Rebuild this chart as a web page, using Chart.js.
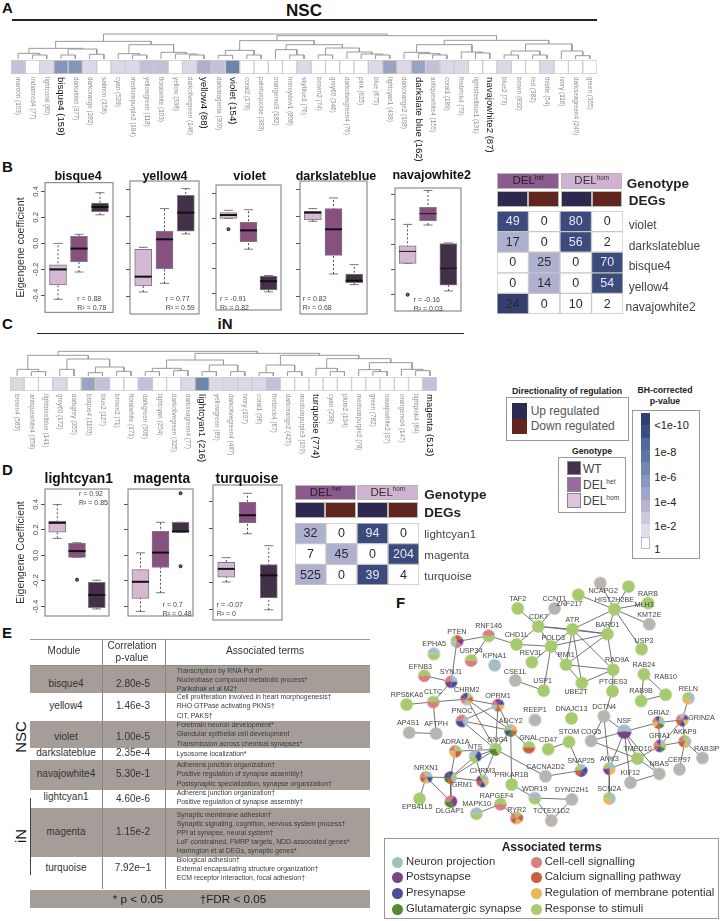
<!DOCTYPE html>
<html lang="en">
<head>
  <meta charset="UTF-8">
  <title>NSC and iN co-expression modules</title>
  <script src="https://cdn.jsdelivr.net/npm/chart.js"></script>
  <style>
    html, body { margin: 0; padding: 0; background: #fff; }
    body { position: relative; width: 728px; height: 921px; overflow: hidden; font-family: "Liberation Sans", Arial, sans-serif; color: #333; }
    canvas { position: absolute; }
    .t { position: absolute; white-space: nowrap; line-height: 1; }
    .b { position: absolute; box-sizing: border-box; }
    sup { font-size: 55%; vertical-align: baseline; position: relative; top: -0.7em; }
  </style>
</head>
<body>
<script>
  // Panel A modules
  const nscModules = ['maroon (103)', 'indianred4 (77)', 'lightcoral (80)', 'bisque4 (159)', 'darkviolet (377)', 'darkorange (282)', 'salmon (158)', 'cyan (528)', 'mediumpurple2 (184)', 'yellowgreen (118)', 'floralwhite (103)', 'yellow (338)', 'darkolivegreen (146)', 'yellow4 (88)', 'darkmagenta (300)', 'violet (154)', 'coral2 (178)', 'paleturquoise (383)', 'orangered3 (182)', 'honeydew1 (808)', 'skyblue1 (76)', 'brown2 (74)', 'grey60 (346)', 'darkolivegreen4 (76)', 'pink (625)', 'blue (675)', 'lightcyan1 (438)', 'darkorange2 (108)', 'darkslate blue (162)', 'antiquewhite4 (155)', 'coral1 (189)', 'firebrick4 (79)', 'lightsteelblue1 (191)', 'navajowhite2 (87)', 'blue2 (73)', 'brown (832)', 'red (382)', 'thistle (54)', 'ivory (116)', 'darkseagreen4 (240)', 'green (355)'];
  const nscLevels = [2, 0, 1, 5, 5, 1, 0, 1, 1, 2, 2, 0, 1, 3, 2, 6, 0, 0, 0, 0, 1, 0, 0, 0, 0, 1, 4, 1, 4, 2, 1, 1, 0, 0, 1, 0, 0, 1, 0, 0, 0];
  const nscBold = ['bisque4 (159)', 'yellow4 (88)', 'violet (154)', 'darkslate blue (162)', 'navajowhite2 (87)'];
  // dendrograms: [height, left, right], 0 is a leaf
  const nscTree = [75,
    [53, [32, [17, 0, [12, 0, 0]], [30, [12, 0, 0], [14, 0, 0]]], [43, [16, 0, [12, 0, 0]], [20, 0, [15, 0, [12, 0, 0]]]]],
    [70,
      [55, [26, [11, 0, 0], [12, 0, 0]], [43, [28, 0, [12, 0, 0]], [33, [12, 0, 0], [21, 0, [15, 0, [12, 0, 0]]]]]],
      [56, [43, [20, 0, [16, 0, [12, 0, 0]]], [21, 0, [18, 0, 0]]], [45, [24, [12, 0, 0], [12, 0, 0]], [24, 0, [10, 0, 0]]]]]];

  // Panel C modules
  const inModules = ['brown4 (583)', 'antiquewhite4 (358)', 'lightsteelblue (141)', 'grey60 (172)', 'darkgrey (355)', 'bisque4 (1103)', 'blue2 (127)', 'brown2 (71)', 'floralwhite (171)', 'darkgreen (906)', 'lightcyan (254)', 'darkolivegreen (325)', 'darkseagreen4 (77)', 'lightcyan1 (216)', 'yellowgreen (89)', 'darkolivegreen4 (487)', 'ivory (197)', 'coral1 (96)', 'firebrick4 (67)', 'darkorange2 (425)', 'mediumpurple3 (109)', 'turquoise (774)', 'cyan (238)', 'plum2 (194)', 'mediumpurple2 (78)', 'green (782)', 'navajowhite2 (97)', 'orangered4 (147)', 'lightpink4 (84)', 'magenta (513)'];
  const inLevels = [1, 0, 0, 1, 0, 4, 2, 0, 0, 2, 0, 0, 1, 6, 1, 1, 1, 1, 2, 0, 0, 0, 0, 0, 0, 0, 0, 0, 0, 2];
  const inBold = ['lightcyan1 (216)', 'turquoise (774)', 'magenta (513)'];
  const inTree = [74,
    [62, [20, 0, [13, 0, 0]], [51, [20, 0, 0], [27, [10, 0, 0], [14, 0, 0]]]],
    [68,
      [48, [23, [13, 0, 0], [16, 0, 0]], [33, [13, 0, 0], [13, 0, 0]]],
      [62, [33, [10, 0, 0], [13, 0, 0]], [52, [23, 0, [13, 0, 0]], [40, [19, 0, [13, 0, 0]], [20, 0, [16, 0, 0]]]]]]];

  // Boxplots: [low whisker, q1, median, q3, high whisker] for DELhom, DELhet, WT
  const yTicks = [-0.4, -0.2, 0, 0.2, 0.4];
  const bisque4Box = [[-0.43, -0.32, -0.2, -0.165, 0], [-0.22, -0.14, -0.04, 0.055, 0.07], [0.22, 0.245, 0.28, 0.31, 0.39]];
  const yellow4Box = [[-0.365, -0.32, -0.25, -0.045, -0.03], [-0.3, -0.19, 0.03, 0.09, 0.26], [0.07, 0.09, 0.23, 0.36, 0.41]];
  const violetBox = [[0.2, 0.2, 0.2275, 0.2475, 0.265], [-0.045, 0.015, 0.105, 0.17, 0.27], [-0.385, -0.37, -0.3, -0.26, -0.255]];
  const darkslateblueBox = [[0.165, 0.175, 0.23, 0.24, 0.26], [-0.23, -0.09, 0.105, 0.26, 0.34], [-0.31, -0.295, -0.28, -0.23, -0.16]];
  const navajowhite2Box = [[-0.15, -0.15, -0.055, -0.01, 0.16], [0.155, 0.19, 0.245, 0.295, 0.43], [-0.37, -0.325, -0.19, 0.0075, 0.0125]];
  const lightcyan1Box = [[0.134, 0.183, 0.256, 0.27, 0.4], [-0.015, -0.015, 0.034, 0.095, 0.1], [-0.42, -0.41, -0.31, -0.212, -0.195]];
  const magentaBox = [[-0.44, -0.337, -0.207, -0.112, 0.02], [-0.293, -0.095, 0.022, 0.19, 0.26], [0.183, 0.183, 0.188, 0.26, 0.26]];
  const turquoiseBox = [[-0.195, -0.16, -0.098, -0.049, -0.015], [0.161, 0.241, 0.298, 0.393, 0.46], [-0.4, -0.312, -0.146, -0.066, 0.073]];
  // outliers: [group, value]
  const violetOutliers = [[0, 0.115]];
  const navajowhite2Outliers = [[0, -0.4]];
  const lightcyan1Outliers = [[1, -0.19]];
  const magentaOutliers = [[2, 0.488], [2, -0.085]];

  // DEG counts, columns are het up, het down, hom up, hom down
  const degRowsB = ['violet', 'darkslateblue', 'bisque4', 'yellow4', 'navajowhite2'];
  const degCountsB = [[49, 0, 80, 0], [17, 0, 56, 2], [0, 25, 0, 70], [0, 14, 0, 54], [24, 0, 10, 2]];
  const degShadeB = [[2, 0, 2, 0], [1, 0, 2, 0], [0, 1, 0, 2], [0, 1, 0, 2], [3, 0, 0, 0]];
  const degRowsD = ['lightcyan1', 'magenta', 'turquoise'];
  const degCountsD = [[32, 0, 94, 0], [7, 45, 0, 204], [525, 0, 39, 4]];
  const degShadeD = [[1, 0, 2, 0], [0, 1, 0, 2], [1, 0, 2, 0]];
  const degColumns = ['het up', 'het down', 'hom up', 'hom down'];

  // Panel E table
  const tableModules = ['bisque4', 'yellow4', 'violet', 'darkslateblue', 'navajowhite4', 'lightcyan1', 'magenta', 'turquoise'];
  const tablePvalues = ['2.80e-5', '1.46e-3', '1.00e-5', '2.35e-4', '5.30e-1', '4.60e-6', '1.15e-2', '7.92e\u22121'];
  const tableTerms = [
    ['Transcription by RNA Pol II*', 'Nucleobase compound metabolic process*', 'Parikshak et al M2\u2020'],
    ['Cell proliferation involved in heart morphogenesis\u2020', 'RHO GTPase activating PKNS\u2020', 'CIT, PAKS\u2020'],
    ['Forebrain neuron development*', 'Glandular epithelial cell development', 'Transmission across chemical synapses*'],
    ['Lysosome localization*'],
    ['Adherens junction organization\u2020', 'Positive regulation of synapse assembly\u2020', 'Postsynaptic specialization, synapse organization\u2020'],
    ['Adherens junction organization\u2020', 'Positive regulation of synapse assembly\u2020'],
    ['Synaptic membrane adhesion\u2020', 'Synaptic signaling, cognition, nervous system process\u2020', 'PPI at synapse, neural system\u2020', 'LoF constrained, FMRP targets, NDD-associated genes*', 'Harrington et al DEGs, synaptic genes*'],
    ['Biological adhesion\u2020', 'External encapsulating structure organization\u2020', 'ECM receptor interaction, focal adhesion\u2020']
  ];
  const tableRowEdges = [665, 693.3, 720.7, 748.3, 760, 790, 808.3, 856.7, 890];
  const tableRowMid = [684, 705.7, 737.3, 753.3, 774, 799, 831.7, 867.7];
  const tableTermTop = [670.7, 697.3, 725.3, 753.7, 765.3, 793.3, 815, 860];

  // Panel F network, positions. Terms: N O P G C K M R, X is none
  const nodeNames = ['TAF2', 'CCNT1', 'ZNF217', 'NCAPG2', 'MLH3', 'RARB', 'HIST2H2BE', 'KMT2E', 'CDK7', 'ATR', 'BARD1', 'USP3', 'RNF146', 'CHD1L', 'POLD3', 'PTEN', 'EPHA5', 'USP34', 'REV3L', 'RMI1', 'RAD9A', 'KPNA1', 'CSE1L', 'USP1', 'UBE2T', 'RAB24', 'RAB10', 'PTGES3', 'RAB9B', 'RELN', 'EFNB3', 'SYNJ1', 'RPS6KA6', 'CLTC', 'CHRM2', 'OPRM1', 'PNOC', 'ADCY2', 'REEP1', 'DNAJC13', 'DCTN4', 'NSF', 'GRIA2', 'GRIN2A', 'AP4S1', 'AFTPH', 'STOM', 'COG5', 'GRIA1', 'AKAP9', 'RAB3IP', 'GNAL', 'CD47', 'GNG4', 'ADRA1A', 'NTS', 'TMED10', 'CEP97', 'NBAS', 'ANK3', 'SNAP25', 'CHRM3', 'KIF12', 'CACNA2D2', 'NRXN1', 'GRM1', 'PRKAR1B', 'WDR19', 'DYNC2H1', 'SCN2A', 'EPB41L5', 'DLGAP1', 'RAPGEF4', 'MAPK10', 'RYR2', 'TCTEX1D2'];
  const nodeX = [516.3, 554.7, 579.3, 602.3, 631.7, 652, 617, 653.3, 537.7, 573.3, 609.7, 645.3, 486, 515, 551, 453, 429, 467.7, 531, 566.7, 615.7, 492.3, 513.7, 543.3, 583, 647.7, 670.3, 615, 644.7, 694, 419, 447, 400.7, 428.3, 463.3, 495.7, 458.3, 509, 534.3, 572.3, 606, 627.3, 663, 687.7, 403.3, 431.3, 569.7, 592.7, 664.3, 690.3, 708.7, 528, 548, 493.3, 451.3, 472, 641, 684.7, 663.7, 611.7, 582.3, 479.7, 633.7, 545.3, 421, 446.3, 510, 534, 572.7, 611.7, 414, 446.7, 498.3, 473.3, 515.3, 551.3];
  const nodeY = [603.3, 603.3, 589, 576.7, 580.3, 597.7, 604.3, 620, 622.3, 625.3, 630.3, 646.3, 632.3, 641.3, 643.3, 638.3, 651.3, 658.3, 660, 662.7, 668, 663.3, 679.3, 690, 682, 672.7, 694.3, 690.7, 701, 698, 674.3, 680.7, 704.7, 702, 699, 705.3, 722, 732, 721, 719.3, 717, 733.3, 723.7, 721, 734.3, 735.3, 744, 743, 748.3, 743.7, 761, 749.7, 751.7, 752, 754, 759.3, 761.7, 773, 777.7, 772.3, 774.3, 785.3, 787, 780.3, 781.3, 781.7, 789, 803.3, 804.7, 803.7, 804, 807, 809.7, 819.7, 824.3, 827];
  const nodeLabelX = [516.3, 554.7, 570, 605.3, 648, 652, 617, 653.3, 538, 573.3, 609.7, 647.7, 486, 515, 553.3, 453, 429.3, 467.7, 530.3, 566.7, 619.7, 492.3, 513.7, 542.3, 577, 647.7, 670.3, 615.7, 644.7, 694, 415, 446.7, 401, 428.3, 463.3, 495.7, 458.3, 509, 534.3, 572.3, 606.3, 627.3, 663, 707.7, 402.3, 431.3, 569.7, 592.7, 664.3, 690.3, 713.3, 528, 548, 495.3, 451.3, 472, 641, 684.7, 663.7, 611.7, 582.3, 479.7, 633.7, 545.3, 421, 458.7, 510, 534, 572.7, 611.7, 411.7, 445.7, 494.3, 473.7, 515.3, 551.3];
  const nodeLabelY = [593.3, 593.7, 598.7, 585.3, 599.5, 588.7, 594.3, 610, 612.3, 615.3, 620.7, 637.3, 621.7, 631.3, 634.3, 628.7, 641, 648, 650, 652.7, 658.3, 653.3, 670, 680.3, 692, 662.7, 675.3, 681, 691, 688, 665.3, 670.7, 694.3, 692, 689, 695.3, 712, 722, 711, 709.3, 707, 722.3, 713.7, 719.3, 724.3, 725.3, 734, 733.3, 738.3, 733.7, 751.7, 740, 741.7, 742, 744.3, 749.3, 751.7, 763, 767.7, 762.3, 764.7, 775.3, 777, 770.3, 771.3, 789.7, 779, 793.3, 794.7, 793.7, 813, 817, 800.7, 810, 815.7, 817];
  const nodeTerms = ['R', 'X', 'R', 'X', 'R', 'R', 'R', 'X', 'R', 'R', 'R', 'R', 'CR', 'R', 'R', 'RKOCN', 'NR', 'RC', 'R', 'R', 'R', 'N', 'X', 'R', 'R', 'R', 'R', 'R', 'R', 'RNM', 'RC', 'CNPO', 'R', 'RC', 'OPRKMNC', 'COPMKN', 'CNP', 'RNMKGP', 'X', 'R', 'X', 'NO', 'CORNGKM', 'CNOMPK', 'X', 'X', 'R', 'X', 'CONRGPK', 'CRNMK', 'X', 'RK', 'R', 'RRG', 'CRKM', 'NPR', 'R', 'X', 'X', 'RNMO', 'RNPOK', 'ORNMPK', 'X', 'X', 'CRNPMK', 'OPRNKG', 'R', 'NR', 'X', 'RNM', 'R', 'COG', 'RC', 'NR', 'CRKMK', 'X'];
  const edgeList = ['TAF2 CDK7', 'CCNT1 CDK7', 'CDK7 ATR', 'CDK7 CHD1L', 'CDK7 POLD3', 'CDK7 BARD1', 'ATR HIST2H2BE', 'ATR BARD1', 'ATR POLD3', 'ATR RMI1', 'ATR UBE2T', 'ATR RAD9A', 'POLD3 REV3L', 'POLD3 USP1', 'POLD3 BARD1', 'POLD3 RMI1', 'CHD1L POLD3', 'BARD1 HIST2H2BE', 'BARD1 RMI1', 'BARD1 RAD9A', 'RMI1 UBE2T', 'RMI1 RAD9A', 'UBE2T RAD9A', 'HIST2H2BE USP3', 'HIST2H2BE MLH3', 'HIST2H2BE NCAPG2', 'HIST2H2BE ZNF217', 'HIST2H2BE RARB', 'HIST2H2BE KMT2E', 'RNF146 PTEN', 'RNF146 CHD1L', 'RNF146 USP34', 'PTEN SYNJ1', 'EFNB3 SYNJ1', 'SYNJ1 CLTC', 'RPS6KA6 CLTC', 'CLTC CHRM2', 'CLTC AFTPH', 'AP4S1 AFTPH', 'CHRM2 OPRM1', 'CHRM2 ADCY2', 'CHRM2 GNG4', 'OPRM1 PNOC', 'OPRM1 ADCY2', 'OPRM1 GNG4', 'PNOC ADCY2', 'PNOC GNG4', 'ADCY2 GNG4', 'ADCY2 PRKAR1B', 'ADCY2 GNAL', 'CSE1L USP1', 'RAB24 RAB9B', 'RAB24 RAB10', 'RAB10 RAB9B', 'PTGES3 RAD9A', 'PTGES3 DCTN4', 'RELN GRIN2A', 'GRIA2 GRIN2A', 'GRIA2 NSF', 'NSF DCTN4', 'NSF COG5', 'NSF TMED10', 'NSF NBAS', 'NSF ANK3', 'NSF KIF12', 'DCTN4 COG5', 'DCTN4 ANK3', 'COG5 TMED10', 'GRIA2 GRIA1', 'GRIA1 GRIN2A', 'GRIA1 AKAP9', 'GRIA1 TMED10', 'AKAP9 GRIN2A', 'AKAP9 RAB3IP', 'AKAP9 CEP97', 'TMED10 ANK3', 'TMED10 NBAS', 'NBAS KIF12', 'ANK3 SCN2A', 'CD47 STOM', 'STOM SNAP25', 'SNAP25 CACNA2D2', 'GNG4 CACNA2D2', 'GNG4 ADRA1A', 'GNG4 NTS', 'GNG4 GRM1', 'GNG4 CHRM3', 'ADRA1A GRM1', 'NTS GRM1', 'NTS CHRM3', 'NRXN1 GRM1', 'NRXN1 DLGAP1', 'NRXN1 EPB41L5', 'GRM1 DLGAP1', 'GRM1 CHRM3', 'PRKAR1B WDR19', 'WDR19 DYNC2H1', 'WDR19 TCTEX1D2', 'DYNC2H1 TCTEX1D2', 'RAPGEF4 MAPK10', 'RAPGEF4 RYR2'];

  const levelColors = ['#ffffff', '#ddd8e8', '#c7bfd9', '#b0aecb', '#9ba3c3', '#8496ba', '#6e84ab'];
  const degColors = ['#ffffff', '#aeb0d0', '#3b4b7d', '#33406f'];
  const genotypeColors = ['#d4b8d4', '#87507f', '#432f47'];
  const termColors = { N: '#a5bccb', O: '#7b3f8c', P: '#474b96', G: '#4f8a2f', C: '#d67f7f', K: '#c8623a', M: '#e6b65c', R: '#a6ca6e', X: '#bab4ae' };
  const rampColors = ['#33406f', '#3b4d85', '#4f6a9d', '#5b76a5', '#7287b1', '#8996bd', '#a0a6c8', '#b8b5d3', '#cdc7df', '#e0dcea', '#ffffff'];

  Chart.defaults.font.family = '"Liberation Sans", Arial, sans-serif';
  Chart.defaults.animation = false;
  Chart.defaults.responsive = false;
  Chart.defaults.plugins.legend.display = false;
  Chart.defaults.plugins.tooltip.enabled = false;

  function put(html, x, y, css, anchor) {
    const el = document.createElement('div');
    el.className = 't';
    el.innerHTML = html;
    el.style.cssText = 'left:' + x + 'px;top:' + y + 'px;' + (css || '');
    el.style.transform = anchor === 'c' ? 'translate(-50%,-50%)' : 'translate(0,-50%)';
    document.body.appendChild(el);
    return el;
  }

  function box(x, y, w, h, css) {
    const el = document.createElement('div');
    el.className = 'b';
    el.style.cssText = 'left:' + x + 'px;top:' + y + 'px;width:' + w + 'px;height:' + h + 'px;' + (css || '');
    document.body.appendChild(el);
    return el;
  }

  function addCanvas(x, y, w, h) {
    const c = document.createElement('canvas');
    c.width = w;
    c.height = h;
    c.style.left = x + 'px';
    c.style.top = y + 'px';
    document.body.appendChild(c);
    return c;
  }

  // dendrogram tree -> line segments split by NaN points
  function treeSegments(tree) {
    const segs = [];
    let leaf = 0;
    function walk(n) {
      if (n === 0) return { x: leaf++, h: 0 };
      const a = walk(n[1]);
      const b = walk(n[2]);
      segs.push({ x: a.x, y: a.h }, { x: a.x, y: n[0] }, { x: b.x, y: n[0] }, { x: b.x, y: b.h }, { x: NaN, y: NaN });
      return { x: (a.x + b.x) / 2, h: n[0] };
    }
    walk(tree);
    return segs;
  }

  function dendrogram(tree, count, x, y, w, h) {
    new Chart(addCanvas(x, y, w, h), {
      type: 'scatter',
      data: { datasets: [{ data: treeSegments(tree), showLine: true, borderColor: '#999', borderWidth: 1, pointRadius: 0 }] },
      options: {
        layout: { padding: 0 },
        scales: {
          x: { type: 'linear', min: -0.5, max: count - 0.5, display: false },
          y: { type: 'linear', min: 0, max: 78, display: false }
        }
      }
    });
  }

  function moduleStrip(labels, levels, bold, x, y, w, h, labelRoom) {
    const labelPlugin = {
      id: 'moduleLabels',
      afterDraw(chart) {
        const c = chart.ctx;
        const sx = chart.scales.x;
        labels.forEach((txt, i) => {
          const isBold = bold.includes(txt);
          c.save();
          c.translate(sx.getPixelForValue(i), chart.chartArea.bottom + 3);
          c.rotate(Math.PI / 2);
          c.textBaseline = 'middle';
          c.textAlign = 'left';
          c.fillStyle = isBold ? '#111' : '#8c8c8c';
          c.font = (isBold ? '9.6px' : '6.3px') + ' "Liberation Sans", Arial, sans-serif';
          c.fillText(txt, 0, 0);
          c.restore();
        });
      }
    };
    new Chart(addCanvas(x, y, w, h + labelRoom), {
      type: 'bar',
      data: {
        labels: labels,
        datasets: [{
          data: labels.map(() => 1),
          backgroundColor: levels.map(l => levelColors[l]),
          borderColor: '#cfcbc7',
          borderWidth: 1,
          borderSkipped: false,
          categoryPercentage: 1,
          barPercentage: 1
        }]
      },
      options: {
        layout: { padding: { top: 1, bottom: labelRoom } },
        scales: { x: { display: false }, y: { display: false, min: 0, max: 1 } }
      },
      plugins: [labelPlugin]
    });
  }

  function boxChart(rows, outliers, fx, fy, fw, fh, yMin, yMax, showLabels, axisTitle, medianWidth) {
    const axisW = showLabels ? 45 : 8;
    const boxParts = {
      id: 'boxParts',
      beforeDatasetsDraw(chart) {
        const c = chart.ctx, sx = chart.scales.x, sy = chart.scales.y;
        c.save();
        rows.forEach((r, i) => {
          const px = sx.getPixelForValue(i);
          c.strokeStyle = '#222';
          c.lineWidth = 0.8;
          c.setLineDash([2, 2]);
          c.beginPath();
          c.moveTo(px, sy.getPixelForValue(r[0]));
          c.lineTo(px, sy.getPixelForValue(r[4]));
          c.stroke();
          c.setLineDash([]);
          c.strokeStyle = '#555';
          [r[0], r[4]].forEach(v => {
            c.beginPath();
            c.moveTo(px - 4.5, sy.getPixelForValue(v));
            c.lineTo(px + 4.5, sy.getPixelForValue(v));
            c.stroke();
          });
        });
        c.restore();
      },
      afterDatasetsDraw(chart) {
        const c = chart.ctx, sx = chart.scales.x, sy = chart.scales.y;
        c.save();
        c.strokeStyle = '#111';
        c.lineWidth = medianWidth;
        rows.forEach((r, i) => {
          const px = sx.getPixelForValue(i);
          c.beginPath();
          c.moveTo(px - 8.5, sy.getPixelForValue(r[2]));
          c.lineTo(px + 8.5, sy.getPixelForValue(r[2]));
          c.stroke();
        });
        c.restore();
        const a = chart.chartArea;
        c.strokeStyle = '#777';
        c.lineWidth = 1;
        c.strokeRect(a.left, a.top, a.right - a.left, a.bottom - a.top);
      }
    };
    new Chart(addCanvas(fx - axisW, fy - 1, axisW + fw + 1, fh + 2), {
      type: 'bar',
      data: {
        datasets: [
          { type: 'line', order: 0, data: outliers.map(o => ({ x: o[0], y: o[1] })), showLine: false, pointRadius: 1.5, pointBorderColor: '#111', pointBackgroundColor: '#777', pointBorderWidth: 1 },
          { type: 'bar', order: 1, data: rows.map((r, i) => ({ x: i, y: [r[1], r[3]] })), backgroundColor: genotypeColors, borderColor: '#7d7d7d', borderWidth: 1, borderSkipped: false, barThickness: 17 }
        ]
      },
      options: {
        layout: { padding: { top: 1, bottom: 1, right: 1, left: 0 } },
        scales: {
          x: { type: 'linear', min: -0.62, max: 2.62, display: false, offset: false },
          y: {
            min: yMin,
            max: yMax,
            afterBuildTicks: s => { s.ticks = yTicks.map(v => ({ value: v })); },
            afterFit: s => { s.width = axisW; },
            title: { display: !!axisTitle, text: axisTitle, font: { size: 10.5 }, color: '#333', padding: { top: 15, bottom: 0 } },
            border: { display: false },
            grid: { drawOnChartArea: false, tickLength: 4, tickColor: '#555', tickWidth: 1 },
            ticks: {
              display: showLabels,
              minRotation: 90,
              maxRotation: 90,
              crossAlign: 'center',
              padding: -2,
              color: '#444',
              font: { size: 7.8 },
              callback: v => v.toFixed(1)
            }
          }
        }
      },
      plugins: [boxParts]
    });
  }

  function degChart(counts, shades, x, y, w, h) {
    const countLabels = {
      id: 'countLabels',
      afterDatasetsDraw(chart) {
        const c = chart.ctx;
        c.save();
        c.textAlign = 'center';
        c.textBaseline = 'middle';
        c.font = '12.5px "Liberation Sans", Arial, sans-serif';
        counts.forEach((row, r) => {
          const bars = chart.getDatasetMeta(r).data;
          row.forEach((v, i) => {
            const p = bars[i].getCenterPoint();
            c.fillStyle = shades[r][i] === 2 ? '#e8e8f0' : '#2a2a2a';
            c.fillText(v, p.x, p.y + 0.5);
          });
        });
        c.restore();
      }
    };
    new Chart(addCanvas(x, y, w, h), {
      type: 'bar',
      data: {
        labels: degColumns,
        datasets: counts.map((row, r) => ({
          data: row.map(() => 1),
          backgroundColor: shades[r].map(s => degColors[s]),
          borderColor: '#c9c5c0',
          borderWidth: 1,
          borderSkipped: false,
          categoryPercentage: 1,
          barPercentage: 1
        }))
      },
      options: {
        scales: {
          x: { display: false, stacked: true },
          y: { display: false, stacked: true, reverse: true, min: 0, max: counts.length }
        }
      },
      plugins: [countLabels]
    });
  }

  function degHeader(x, y, midGap, colW) {
    box(x, y, colW * 2, 15.4, 'background:#8b5a8e;border:1px solid #bdb8b3');
    box(x + colW * 2 + midGap, y, colW * 2, 15.4, 'background:#d0b3d2;border:1px solid #bdb8b3');
    put('DEL<sup>het</sup>', x + colW, y + 7.7, 'font-size:11.5px;color:#222', 'c');
    put('DEL<sup>hom</sup>', x + colW * 3 + midGap, y + 7.7, 'font-size:11.5px;color:#333', 'c');
    [0, 1, 2, 3].forEach(i => {
      const left = x + colW * i + (i > 1 ? midGap : 0);
      box(left, y + 17.2, colW, 16.2, 'border:1px solid #bdb8b3;background:' + (i % 2 ? '#612520' : '#2c2850'));
    });
  }

  // network pies, one small canvas per node
  function pieImage(terms, r) {
    const size = Math.ceil(r * 2) + 2;
    const c = document.createElement('canvas');
    c.width = size;
    c.height = size;
    const g = c.getContext('2d');
    const slice = Math.PI * 2 / terms.length;
    for (let i = 0; i < terms.length; i++) {
      g.beginPath();
      g.moveTo(size / 2, size / 2);
      g.arc(size / 2, size / 2, r, Math.PI + slice * i, Math.PI + slice * (i + 1));
      g.closePath();
      g.fillStyle = termColors[terms[i]];
      g.fill();
    }
    return c;
  }

  // ---- panel letters and headings
  put('A', 2, 7, 'font:bold 15px "Liberation Sans";color:#111');
  put('NSC', 304, 10.5, 'font:bold 17px "Liberation Sans";color:#111', 'c');
  box(11.7, 19, 585, 1.8, 'background:#222');
  put('B', 2, 166, 'font:bold 15px "Liberation Sans";color:#111');
  put('C', 2, 323, 'font:bold 15px "Liberation Sans";color:#111');
  put('iN', 225, 323, 'font:bold 15px "Liberation Sans";color:#111', 'c');
  box(37, 332.5, 427, 1.6, 'background:#222');
  put('D', 2, 469, 'font:bold 15px "Liberation Sans";color:#111');
  put('E', 2, 632, 'font:bold 15px "Liberation Sans";color:#111');
  put('F', 396, 602, 'font:bold 15px "Liberation Sans";color:#111');

  // ---- panel A, C
  dendrogram(nscTree, nscModules.length, 11, 33, 586, 26.5);
  moduleStrip(nscModules, nscLevels, nscBold, 11, 59, 586, 15, 95);
  dendrogram(inTree, inModules.length, 10, 350, 427, 26.5);
  moduleStrip(inModules, inLevels, inBold, 10, 376, 427, 15, 100);

  // ---- panel B
  const bTitle = 'font:bold 12.5px "Liberation Sans";color:#111';
  boxChart(bisque4Box, [], 45, 181, 68, 133, -0.53, 0.467, true, 'Eigengene coefficient', 2);
  boxChart(yellow4Box, [], 130.3, 181, 69.7, 133, -0.53, 0.467, false, '', 2);
  boxChart(violetBox, violetOutliers, 215.7, 181, 69.3, 133, -0.53, 0.467, false, '', 2);
  boxChart(darkslateblueBox, [], 299.7, 181, 67, 133, -0.53, 0.467, false, '', 2);
  boxChart(navajowhite2Box, navajowhite2Outliers, 395, 184, 70, 131, -0.53, 0.45, false, '', 1);
  put('bisque4', 78, 175.7, bTitle, 'c');
  put('yellow4', 165, 175.7, bTitle, 'c');
  put('violet', 249.7, 175.7, bTitle, 'c');
  put('darkslateblue', 336, 175.7, bTitle, 'c');
  put('navajowhite2', 431.7, 175, bTitle, 'c');
  const statCss = 'font-size:7px;color:#444';
  [[77.3, 'r = 0.88', 'R\u00b2 = 0.78'], [165.7, 'r = 0.77', 'R\u00b2 = 0.59'], [220, 'r = -0.91', 'R\u00b2 = 0.82'], [302.7, 'r = 0.82', 'R\u00b2 = 0.68']].forEach(s => {
    put(s[1], s[0], 298, statCss);
    put(s[2], s[0], 307.3, statCss);
  });
  put('r = -0.16', 413.7, 299, statCss);
  put('R\u00b2 = 0.03', 413.7, 307.7, statCss);

  // ---- DEG table B
  degHeader(497.3, 173.3, 2, 30.8);
  degChart(degCountsB, degShadeB, 497, 211, 126, 103);
  put('Genotype', 626.7, 182.5, 'font:bold 13.5px "Liberation Sans";color:#222');
  put('DEGs', 628.7, 200, 'font:bold 13.5px "Liberation Sans";color:#222');
  degRowsB.forEach((name, i) => {
    put(name, i === 4 ? 625.5 : 628.7, 225 + i * 20.5, 'font-size:12px;color:#444');
  });

  // ---- legends right of panel C
  put('Directionality of regulation', 567, 390.7, 'font:bold 8.7px "Liberation Sans";color:#222', 'c');
  box(506.3, 397.3, 122.4, 43.7, 'border:1px solid #999');
  box(512, 403.3, 15.3, 15.4, 'background:#2b2a50');
  box(512, 418.7, 15.3, 15.3, 'background:#612520');
  put('Up regulated', 530.7, 410.5, 'font-size:12px;color:#555');
  put('Down regulated', 530.7, 425.9, 'font-size:12px;color:#555');
  put('Genotype', 592, 451.3, 'font:bold 8.7px "Liberation Sans";color:#222', 'c');
  box(558.3, 456.7, 67.4, 56, 'border:1px solid #999');
  [['WT', '#46304a'], ['DEL<sup>het</sup>', '#9a6a9e'], ['DEL<sup>hom</sup>', '#dcc4dc']].forEach((g, i) => {
    box(566.7, 461 + i * 16.2, 14, 14.4, 'border:1px solid #888;background:' + g[1]);
    put(g[0], 583, 468.5 + i * 16.2, 'font-size:12px;color:#444');
  });
  put('BH-corrected', 665, 390, 'font:bold 8.7px "Liberation Sans";color:#222', 'c');
  put('p-value', 665, 401.3, 'font:bold 8.7px "Liberation Sans";color:#222', 'c');
  box(632, 409.7, 67.7, 149.6, 'border:1px solid #999');
  rampColors.forEach((col, i) => {
    box(641.3, 412.7 + i * 12.42, 9, 12.42, 'background:' + col + (i === 10 ? ';border:1px solid #bbb' : ''));
  });
  [['&lt;1e-10', 425.3], ['1e-8', 451.7], ['1e-6', 476.7], ['1e-4', 501.7], ['1e-2', 526], ['1', 549.3]].forEach(l => {
    put(l[0], 654.3, l[1], 'font-size:11px;color:#222');
  });

  // ---- panel D
  const dTitle = 'font:bold 13.8px "Liberation Sans";color:#111';
  boxChart(lightcyan1Box, lightcyan1Outliers, 44.7, 485, 68.3, 135.6, -0.4755, 0.5213, true, 'Eigengene Coefficient', 2);
  boxChart(magentaBox, magentaOutliers, 127.7, 485, 69, 135.6, -0.4755, 0.5213, false, '', 2);
  boxChart(turquoiseBox, [], 213, 485, 69, 135.6, -0.4755, 0.5213, false, '', 2);
  put('lightcyan1', 78.7, 477.7, dTitle, 'c');
  put('magenta', 161.7, 477.7, dTitle, 'c');
  put('turquoise', 247, 477.7, dTitle, 'c');
  put('r = 0.92', 79, 493.3, statCss);
  put('R\u00b2 = 0.85', 79, 502.3, statCss);
  put('r = 0.7', 162.7, 604, statCss);
  put('R\u00b2 = 0.48', 162.7, 612.7, statCss);
  put('r = -0.07', 216.7, 604, statCss);
  put('R\u00b2 = 0', 216.7, 612.7, statCss);

  // ---- DEG table D
  degHeader(295, 485, 1.6, 30.4);
  degChart(degCountsD, degShadeD, 295, 523, 124, 62);
  put('Genotype', 424.3, 494, 'font:bold 13.5px "Liberation Sans";color:#222');
  put('DEGs', 424.3, 512, 'font:bold 13.5px "Liberation Sans";color:#222');
  degRowsD.forEach((name, i) => {
    put(name, 424.3, 535 + i * 21, 'font-size:11.5px;color:#444');
  });

  // ---- panel E table
  box(30, 639, 340, 1, 'background:#9a9a9a');
  tableModules.forEach((m, i) => {
    if (i % 2 === 0) box(30, tableRowEdges[i], 340, tableRowEdges[i + 1] - tableRowEdges[i], 'background:#a59e98');
    put(m, 66, tableRowMid[i] - (i === 5 ? 2 : 0), 'font-size:10px;color:#333', 'c');
    put(tablePvalues[i], 133, tableRowMid[i], 'font-size:10px;color:#333', 'c');
    tableTerms[i].forEach((term, k) => {
      put(term, 176.7, tableTermTop[i] + k * 9.1, 'font-size:6.9px;color:#3a3a3a');
    });
  });
  box(102.3, 639, 1, 250, 'background:#888');
  box(165.3, 639, 1, 250, 'background:#888');
  box(30, 665, 340, 0.8, 'background:#8a8a8a');
  box(30, 890, 340, 18.3, 'background:#a59e98');
  put('Module', 64, 651, 'font-size:10px;color:#333', 'c');
  put('Correlation', 132, 646, 'font-size:10px;color:#333', 'c');
  put('p-value', 132, 658, 'font-size:10px;color:#333', 'c');
  put('Associated terms', 265, 651, 'font-size:10.2px;color:#333', 'c');
  put('* p &lt; 0.05', 138, 899, 'font-size:11.7px;color:#222', 'c');
  put('\u2020FDR &lt; 0.05', 233, 899, 'font-size:11.7px;color:#222', 'c');
  put('NSC', 20, 736.7, 'font-size:15px;color:#111', 'c').style.transform = 'translate(-50%,-50%) rotate(-90deg)';
  put('iN', 20, 835.7, 'font-size:15px;color:#111', 'c').style.transform = 'translate(-50%,-50%) rotate(-90deg)';
  box(30.2, 797.7, 1, 77.3, 'background:#444');

  // ---- panel F network
  const nodeIndex = {};
  nodeNames.forEach((n, i) => { nodeIndex[n] = i; });
  const edgePoints = [];
  edgeList.forEach(e => {
    const pair = e.split(' ');
    const a = nodeIndex[pair[0]], b = nodeIndex[pair[1]];
    edgePoints.push({ x: nodeX[a], y: nodeY[a] }, { x: nodeX[b], y: nodeY[b] }, { x: NaN, y: NaN });
  });
  const nodeLabels = {
    id: 'nodeLabels',
    afterDatasetsDraw(chart) {
      const c = chart.ctx, sx = chart.scales.x, sy = chart.scales.y;
      c.save();
      c.font = '7.2px "Liberation Sans", Arial, sans-serif';
      c.fillStyle = '#444';
      c.textAlign = 'center';
      c.textBaseline = 'middle';
      nodeNames.forEach((n, i) => {
        c.fillText(n, sx.getPixelForValue(nodeLabelX[i]), sy.getPixelForValue(nodeLabelY[i]));
      });
      c.restore();
    }
  };
  new Chart(addCanvas(375, 565, 353, 272), {
    type: 'scatter',
    data: {
      datasets: [
        { order: 1, data: edgePoints, showLine: true, borderColor: '#666', borderWidth: 0.9, pointRadius: 0 },
        {
          order: 0,
          data: nodeNames.map((n, i) => ({ x: nodeX[i], y: nodeY[i] })),
          pointStyle: nodeNames.map((n, i) => pieImage(nodeTerms[i], n === 'NSF' ? 7.2 : 6.3)),
          pointRadius: 6
        }
      ]
    },
    options: {
      layout: { padding: 0 },
      scales: {
        x: { type: 'linear', min: 375, max: 728, display: false },
        y: { type: 'linear', min: 565, max: 837, reverse: true, display: false }
      }
    },
    plugins: [nodeLabels]
  });

  // ---- panel F legend
  box(384, 837.7, 335, 81.6, 'border:1px solid #999');
  put('Associated terms', 551.7, 846.5, 'font:bold 12px "Liberation Sans";color:#222', 'c');
  const legendRowY = [862.3, 877, 893, 909];
  [['Neuron projection', '#9cc4b8'], ['Postsynapse', '#7c4582'], ['Presynapse', '#4a4f97'], ['Glutamatergic synapse', '#56892f']].forEach((t, i) => {
    box(392.2, legendRowY[i] - 5.5, 11, 11, 'border-radius:50%;background:' + t[1]);
    put(t[0], 406, legendRowY[i], 'font-size:11.3px;color:#333');
  });
  [['Cell-cell signalling', '#d98080'], ['Calcium signalling pathway', '#c9603c'], ['Regulation of membrane potential', '#e8b75a'], ['Response to stimuli', '#a9cc72']].forEach((t, i) => {
    box(530.8, legendRowY[i] - 5.5, 11, 11, 'border-radius:50%;background:' + t[1]);
    put(t[0], 544.7, legendRowY[i], 'font-size:11.3px;color:#333');
  });
</script>
</body>
</html>
